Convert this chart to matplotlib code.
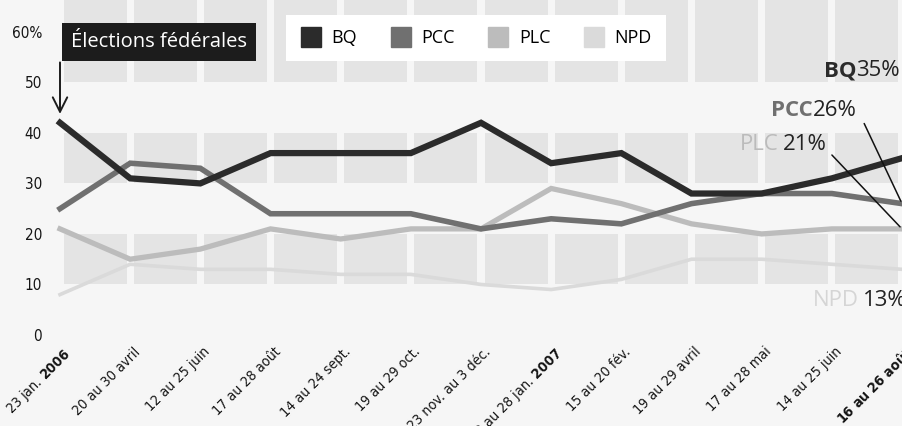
import matplotlib.pyplot as plt
import matplotlib.transforms as mtransforms
from matplotlib.lines import Line2D

plt.rcParams['font.family'] = ['DejaVu Sans']
plt.rcParams['font.stretch'] = 'condensed'
plt.rcParams['mathtext.fontset'] = 'custom'
plt.rcParams['mathtext.rm'] = 'DejaVu Sans:stretch=condensed'
plt.rcParams['mathtext.bf'] = 'DejaVu Sans:weight=bold:stretch=condensed'

dates = ["23 jan. $\\mathbf{2006}$", "20 au 30 avril", "12 au 25 juin", "17 au 28 août",
         "14 au 24 sept.", "19 au 29 oct.", "23 nov. au 3 déc.", "18 au 28 jan. $\\mathbf{2007}$",
         "15 au 20 fév.", "19 au 29 avril", "17 au 28 mai", "14 au 25 juin",
         "$\\mathbf{16\\ au\\ 26\\ août}$"]

bq = [42, 31, 30, 36, 36, 36, 42, 34, 36, 28, 28, 31, 35]
pcc = [25, 34, 33, 24, 24, 24, 21, 23, 22, 26, 28, 28, 26]
plc = [21, 15, 17, 21, 19, 21, 21, 29, 26, 22, 20, 21, 21]
npd = [8, 14, 13, 13, 12, 12, 10, 9, 11, 15, 15, 14, 13]

parties = ["BQ", "PCC", "PLC", "NPD"]
colors = ["#2b2b2b", "#707070", "#bcbcbc", "#dadada"]
widths = [4.5, 4.0, 3.8, 2.6]

W, H = 902, 426
fig = plt.figure(figsize=(W / 100, H / 100), dpi=100, facecolor="#f6f6f6")
ax = fig.add_axes([60 / W, 91 / H, (W - 60) / W, 1 - 91 / H])
ax.set_facecolor("#f6f6f6")

x = list(range(len(dates)))

# grey bands behind the lines, broken at each survey date
for lo in [10, 30, 50]:
    ax.bar([i + 0.5 for i in x[:-1]], 10 if lo < 50 else 20, bottom=lo,
           width=0.9, color="#e4e4e4", zorder=0)

for vals, c, lw in zip([npd, plc, pcc, bq], colors[::-1], widths[::-1]):
    ax.plot(x, vals, color=c, linewidth=lw, solid_joinstyle="miter", clip_on=False, zorder=3)

ax.set_xlim(0, 11.94)
ax.set_ylim(0, 66.3)
ax.set_yticks([0, 10, 20, 30, 40, 50, 60])
ax.set_yticklabels(["0", "10", "20", "30", "40", "50", "60%"])
ax.set_xticks(x)
ax.set_xticklabels(dates, rotation=45, ha="right", va="top", rotation_mode="anchor")
ax.tick_params(length=0, colors="#151515")
ax.tick_params(axis="y", pad=13, labelsize=11)
ax.tick_params(axis="x", pad=7, labelsize=10.3)
shift = mtransforms.ScaledTranslation(2 / 72, 0, fig.dpi_scale_trans)
for lab in ax.get_xticklabels():
    lab.set_transform(lab.get_transform() + shift)
for s in ax.spines.values():
    s.set_visible(False)

# legend
handles = [Line2D([], [], marker="s", linestyle="none", markersize=14.5, color=c) for c in colors]
leg = fig.legend(handles, parties, ncol=4, loc="center", bbox_to_anchor=(476 / W, 1 - 38 / H),
                 frameon=True, facecolor="white", edgecolor="none", fancybox=False,
                 prop={"family": "Open Sans", "size": 13, "stretch": "normal"},
                 handlelength=1.2, handletextpad=0.55, columnspacing=1.8, borderpad=0.8)
leg.get_frame().set_alpha(1)

# election box and arrow
fig.text(71 / W, 1 - 42 / H, "Élections fédérales", color="white", fontsize=14.5,
         family="Open Sans", stretch="normal", va="center", ha="left",
         bbox=dict(boxstyle="square,pad=0.45", facecolor="#1c1c1c", edgecolor="none"))
ax.annotate("", xy=(0, 43.2), xytext=(0, 54.5), annotation_clip=False,
            arrowprops=dict(arrowstyle="->", color="#1c1c1c", lw=1.4, mutation_scale=26))

# end labels
def end_label(px, py, name, ncol, value, bold=True, gap=0):
    fig.text(px / W, 1 - py / H, name, color=ncol, fontsize=16, family="Open Sans",
             stretch="normal", fontweight="bold" if bold else "normal", ha="right", va="center")
    fig.text((px + gap) / W, 1 - py / H, value, color="#222222", fontsize=16, family="Open Sans",
             stretch="normal", ha="left", va="center")

end_label(856, 71, "BQ", colors[0], "35%")
end_label(813, 110, "PCC", colors[1], "26%")
end_label(779, 145, "PLC", "#bbbbbb", "21%", bold=False, gap=4)
end_label(859, 300, "NPD", "#d5d5d5", "13%", bold=False, gap=4)

ax.annotate("", xy=(12, pcc[-1]), xytext=(863 / W, 1 - 121 / H), textcoords="figure fraction",
            annotation_clip=False, arrowprops=dict(arrowstyle="-", color="#111111", lw=1.1))
ax.annotate("", xy=(12, plc[-1]), xytext=(830 / W, 1 - 153 / H), textcoords="figure fraction",
            annotation_clip=False, arrowprops=dict(arrowstyle="-", color="#111111", lw=1.1))

fig.savefig("out.png", dpi=100, facecolor=fig.get_facecolor())
